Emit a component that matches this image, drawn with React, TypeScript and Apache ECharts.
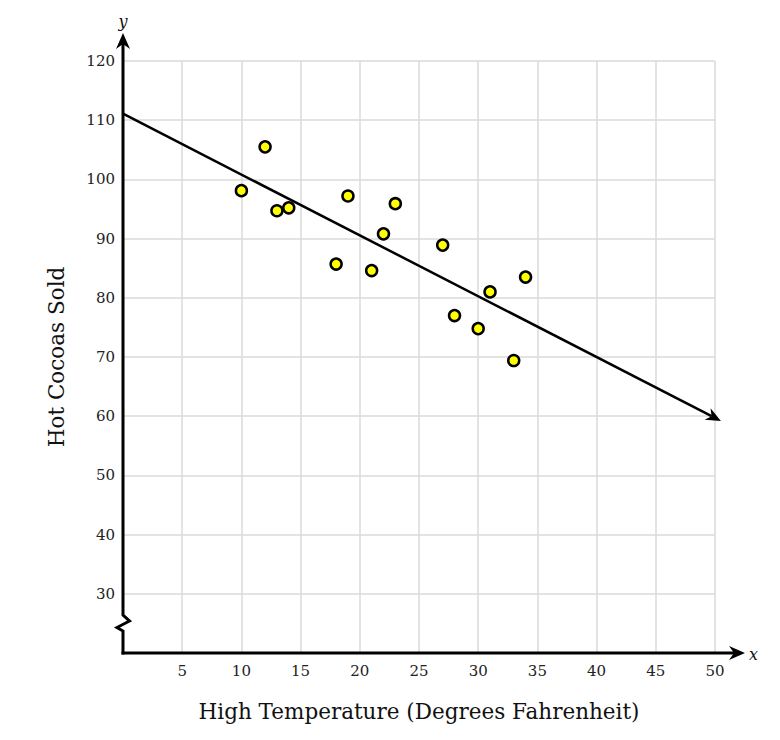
import React, { useEffect, useRef } from 'react';
import * as echarts from 'echarts';

// High temperature (°F) vs. hot cocoas sold
const temperatures = [10, 12, 13, 14, 18, 19, 21, 22, 23, 27, 28, 30, 31, 33, 34];
const cocoasSold = [98.1, 105.5, 94.7, 95.2, 85.7, 97.2, 84.6, 90.8, 95.9, 88.9, 77, 74.8, 81, 69.4, 83.5];

// trend line, drawn with an arrow at its right end
const trendStart = [0, 111.1];
const trendEnd = [50.5, 59.2];

const xRange = [0, 50];
const yRange = [20, 120];

const FONT = '"DejaVu Serif", serif';

// notched arrowhead pointing along (dx, dy)
const arrowHead = (tip: number[], dx: number, dy: number, len = 16, half = 7, notch = 5) => {
  const l = Math.hypot(dx, dy);
  const ux = dx / l;
  const uy = dy / l;
  const nx = -uy;
  const ny = ux;
  return {
    points: [
      tip,
      [tip[0] - len * ux + half * nx, tip[1] - len * uy + half * ny],
      [tip[0] - (len - notch) * ux, tip[1] - (len - notch) * uy],
      [tip[0] - len * ux - half * nx, tip[1] - len * uy - half * ny],
    ],
    base: [tip[0] - (len - notch) * ux, tip[1] - (len - notch) * uy],
  };
};

const App: React.FC = () => {
  const chartRef = useRef<HTMLDivElement>(null);

  useEffect(() => {
    document.body.style.margin = '0';
    if (!chartRef.current) return;
    const chart = echarts.init(chartRef.current, undefined, { renderer: 'svg' });

    const option: any = {
      animation: false,
      backgroundColor: '#ffffff',
      grid: { left: 123, right: 65, top: 61, bottom: 87 },
      xAxis: {
        type: 'value',
        min: xRange[0],
        max: xRange[1],
        interval: 5,
        name: 'High Temperature (Degrees Fahrenheit)',
        nameLocation: 'middle',
        nameGap: 47,
        nameTextStyle: { fontFamily: FONT, fontSize: 21.5, color: '#111' },
        axisLine: { show: false },
        axisTick: { show: false },
        axisLabel: {
          margin: 10,
          fontFamily: FONT,
          fontSize: 15,
          color: '#222',
          formatter: (v: number) => (v === 0 ? '' : String(v)),
        },
        splitLine: { show: true, showMinLine: false, lineStyle: { color: '#dadada', width: 1.5 } },
      },
      yAxis: {
        type: 'value',
        min: yRange[0],
        max: yRange[1],
        interval: 10,
        name: 'Hot Cocoas Sold',
        nameLocation: 'middle',
        nameGap: 56,
        nameTextStyle: { fontFamily: FONT, fontSize: 21.5, color: '#111' },
        axisLine: { show: false },
        axisTick: { show: false },
        axisLabel: {
          margin: 8,
          fontFamily: FONT,
          fontSize: 15,
          color: '#222',
          formatter: (v: number) => (v === 20 ? '' : String(v)),
        },
        splitLine: { show: true, showMinLine: false, lineStyle: { color: '#dadada', width: 1.5 } },
      },
      series: [
        {
          // axes with arrows, axis break and the trend line
          type: 'custom',
          coordinateSystem: 'cartesian2d',
          clip: false,
          silent: true,
          z: 3,
          data: [[xRange[0], yRange[0]]],
          renderItem: (_params: any, api: any) => {
            const o = api.coord([xRange[0], yRange[0]]);
            const yTop = api.coord([xRange[0], yRange[1]]);
            const xEnd = api.coord([xRange[1], yRange[0]]);
            const ax = o[0];
            const ay = o[1];
            const yTip = [ax, yTop[1] - 28];
            const xTip = [xEnd[0] + 30, ay];
            const yHead = arrowHead(yTip, 0, -1);
            const xHead = arrowHead(xTip, 1, 0);

            const ts = api.coord(trendStart);
            const te = api.coord(trendEnd);
            const tHead = arrowHead(te, te[0] - ts[0], te[1] - ts[1], 15, 6.5, 4.5);

            const axisStyle = { stroke: '#000', lineWidth: 3, fill: null, lineJoin: 'miter' };
            return {
              type: 'group',
              children: [
                {
                  type: 'polyline',
                  shape: { points: [ts, tHead.base] },
                  style: { stroke: '#000', lineWidth: 2.5, fill: null },
                },
                { type: 'polygon', shape: { points: tHead.points }, style: { fill: '#000' } },
                {
                  type: 'polyline',
                  shape: {
                    points: [
                      [ax, ay + 1.5],
                      [ax, ay - 22],
                      [ax - 6, ay - 25.5],
                      [ax + 6.5, ay - 32],
                      [ax, ay - 38],
                      yHead.base,
                    ],
                  },
                  style: axisStyle,
                },
                {
                  type: 'polyline',
                  shape: { points: [[ax - 1.5, ay], xHead.base] },
                  style: axisStyle,
                },
                { type: 'polygon', shape: { points: yHead.points }, style: { fill: '#000' } },
                { type: 'polygon', shape: { points: xHead.points }, style: { fill: '#000' } },
                {
                  type: 'text',
                  style: {
                    text: 'y',
                    x: ax,
                    y: yTip[1] - 12,
                    align: 'center',
                    verticalAlign: 'middle',
                    font: `italic 16px ${FONT}`,
                    fill: '#111',
                  },
                },
                {
                  type: 'text',
                  style: {
                    text: 'x',
                    x: xTip[0] + 4,
                    y: ay + 1,
                    align: 'left',
                    verticalAlign: 'middle',
                    font: `italic 16px ${FONT}`,
                    fill: '#111',
                  },
                },
              ],
            };
          },
        },
        {
          type: 'scatter',
          z: 5,
          symbol: 'circle',
          symbolSize: 11,
          itemStyle: { color: '#ffff00', borderColor: '#000000', borderWidth: 2.5, opacity: 1 },
          data: temperatures.map((t, i) => [t, cocoasSold[i]]),
        },
      ],
    };

    chart.setOption(option);

    return () => {
      chart.dispose();
    };
  }, []);

  return <div ref={chartRef} style={{ width: '780px', height: '740px' }} />;
};

export default App;
